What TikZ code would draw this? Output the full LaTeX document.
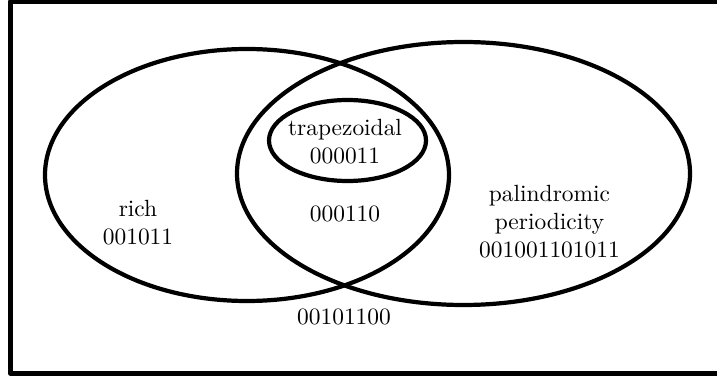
\documentclass[tikz,border=0pt]{standalone}
\begin{document}
\begin{tikzpicture}[x=0.015cm, y=-0.015cm, line join=round, line cap=round]
	\def \lw{1.8pt};
	\tikzset{setlabel/.style={align=center}}
	\useasboundingbox (0,0) rectangle (717,377);
	\clip (0,0) rectangle (717,377);
	\draw[line width=2.1pt] (10.8,1.5) rectangle (725,373.5);
	\draw[line width=\lw] (247,175) ellipse[x radius=202, y radius=126];
	\draw[line width=\lw] (463.5,173.5) ellipse[x radius=226.5, y radius=131.5];
	\draw[line width=\lw] (347.5,140.5) ellipse[x radius=78.5, y radius=40.5];
	\node[setlabel] (rich) at (138,222.3) {rich\\001011};
	\node[setlabel] (trap) at (345,141.4) {trapezoidal\\000011};
	\node[setlabel] (pal) at (549.5,222) {palindromic\\periodicity\\001001101011};
	\node[anchor=base] (both) at (345,221.7) {000110};
	\node[anchor=base] (none) at (344,324) {00101100};
\end{tikzpicture}
\end{document}
